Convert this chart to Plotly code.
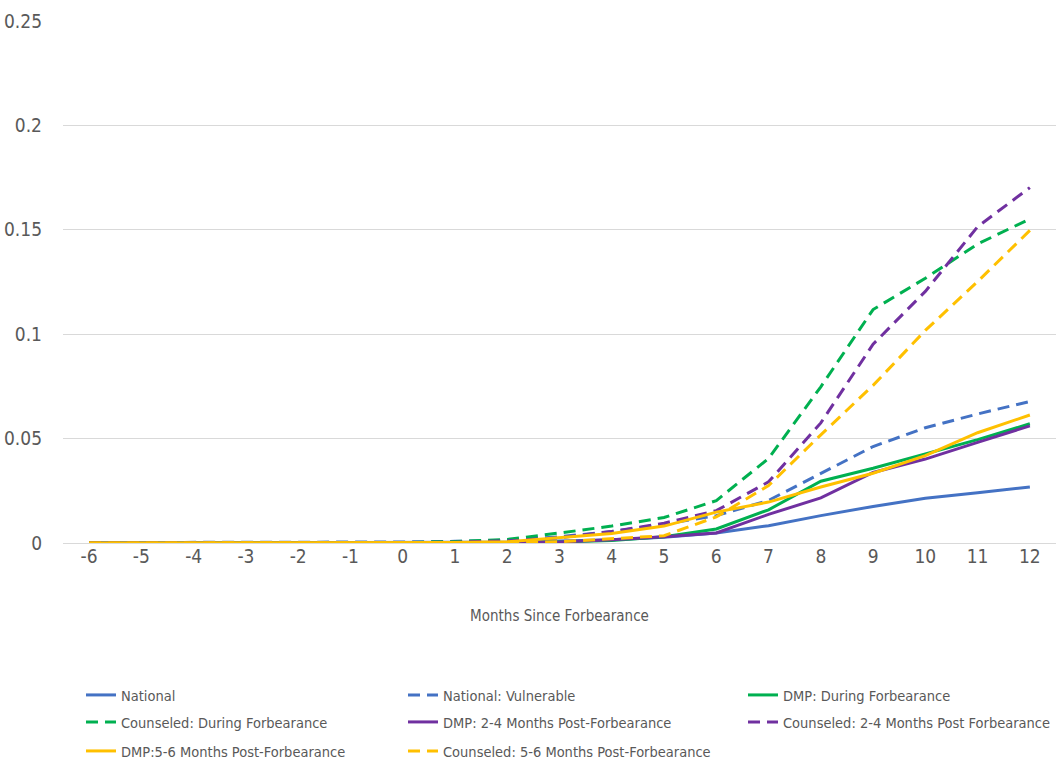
import plotly.graph_objects as go

months = list(range(-6, 13))

national = [0, 0, 0, 0, 0.0001, 0.0001, 0.0002, 0.0003, 0.0004, 0.0008, 0.0015, 0.0027,
            0.0048, 0.0083, 0.0131, 0.0175, 0.0214, 0.0241, 0.0268]
national_vulnerable = [0.0002, 0.0002, 0.0002, 0.0003, 0.0005, 0.0005, 0.0005, 0.0008, 0.0013,
                       0.003, 0.0055, 0.009, 0.0131, 0.0204, 0.0333, 0.0462, 0.0552, 0.0618, 0.0678]
dmp_during = [0, 0, 0, 0, 0, 0, 0, 0.0001, 0.0002, 0.0005, 0.0012, 0.003,
              0.0067, 0.0159, 0.0296, 0.0358, 0.0425, 0.0495, 0.0571]
counseled_during = [0, 0, 0, 0, 0, 0.0001, 0.0002, 0.0007, 0.0017, 0.0048, 0.0081, 0.0122,
                    0.0203, 0.0405, 0.0748, 0.1118, 0.1268, 0.1432, 0.1552]
dmp_2_4 = [0, 0, 0, 0, 0, 0, 0, 0, 0.0001, 0.0005, 0.0015, 0.003,
           0.0048, 0.0137, 0.0216, 0.0338, 0.0402, 0.0482, 0.0561]
counseled_2_4 = [0, 0, 0, 0, 0, 0, 0.0001, 0.0004, 0.001, 0.0025, 0.0055, 0.0095,
                 0.0155, 0.0293, 0.0575, 0.0952, 0.1205, 0.1515, 0.1702]
dmp_5_6 = [0, 0, 0, 0, 0, 0, 0, 0.0002, 0.0006, 0.0025, 0.0045, 0.0081,
           0.0148, 0.0196, 0.0268, 0.0334, 0.0418, 0.0528, 0.0613]
counseled_5_6 = [0, 0, 0, 0, 0, 0, 0, 0, 0.0002, 0.0006, 0.002, 0.0035,
                 0.0125, 0.0275, 0.0518, 0.0755, 0.1018, 0.1252, 0.1497]

series = [
    ("National", national, "#4472C4", "solid"),
    ("National: Vulnerable", national_vulnerable, "#4472C4", "dash"),
    ("DMP: During Forbearance", dmp_during, "#00B050", "solid"),
    ("Counseled: During Forbearance", counseled_during, "#00B050", "dash"),
    ("DMP: 2-4 Months Post-Forbearance", dmp_2_4, "#7030A0", "solid"),
    ("Counseled: 2-4 Months Post Forbearance", counseled_2_4, "#7030A0", "dash"),
    ("DMP:5-6 Months Post-Forbearance", dmp_5_6, "#FFC000", "solid"),
    ("Counseled: 5-6 Months Post-Forbearance", counseled_5_6, "#FFC000", "dash"),
]

FONT = "DejaVu Sans Condensed, Liberation Sans Narrow, sans-serif"
GREY = "#595959"
W, H = 1058, 761

# legend grid: three columns, three rows, one legend box per entry
col_px = [81, 403, 743]
row_px = [695, 722, 751]

fig = go.Figure()
layout_legends = {}
for i, (name, values, color, style) in enumerate(series):
    key = "legend" if i == 0 else f"legend{i + 1}"
    fig.add_trace(go.Scatter(
        x=months, y=values, name=name, mode="lines", legend=key,
        line=dict(color=color, width=3, dash="12px,7px" if style == "dash" else "solid"),
    ))
    row, col = divmod(i, 3)
    layout_legends[key] = dict(
        orientation="h", xref="container", yref="container",
        x=col_px[col] / W, xanchor="left",
        y=1 - row_px[row] / H, yanchor="middle",
        font=dict(size=14.5, color=GREY, family=FONT),
        bgcolor="rgba(0,0,0,0)",
    )

fig.update_layout(
    width=W, height=H,
    margin=dict(l=63, r=2, t=21, b=218),
    paper_bgcolor="white", plot_bgcolor="white",
    font=dict(family=FONT, color=GREY, size=16),
    showlegend=True,
    **layout_legends,
)
fig.update_xaxes(
    range=[-6.5, 12.5], tickmode="array", tickvals=months,
    ticktext=[str(m) for m in months],
    showgrid=False, zeroline=False, showline=False,
    tickfont=dict(size=19, color=GREY),
    title=dict(text="Months Since Forbearance", font=dict(size=15, color=GREY), standoff=44),
)
fig.update_yaxes(
    range=[0, 0.25], tickvals=[0, 0.05, 0.1, 0.15, 0.2, 0.25],
    ticktext=["0", "0.05", "0.1", "0.15", "0.2", "0.25"],
    showgrid=True, gridcolor="#D9D9D9", gridwidth=1,
    zeroline=True, zerolinecolor="#D9D9D9", zerolinewidth=1,
    tickfont=dict(size=19, color=GREY), ticklabelstandoff=20,
)

fig.write_html("out.html")
